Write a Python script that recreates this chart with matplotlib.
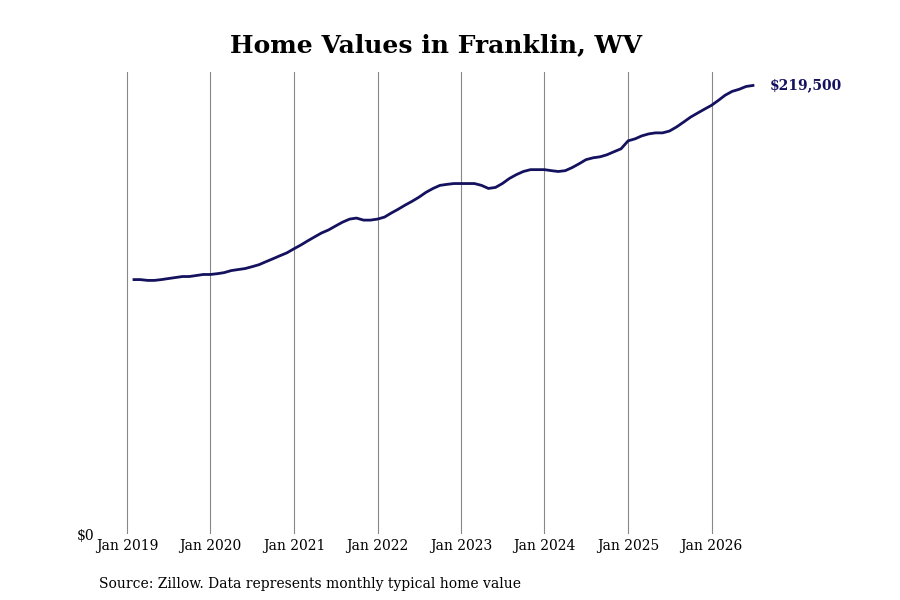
import matplotlib
matplotlib.use("Agg")
import matplotlib.pyplot as plt
import numpy as np
import pandas as pd

# Monthly typical home value (thousands of $), Feb 2019 .. Jul 2026
values_k = [
    124.5, 124.5, 124.1, 124.1, 124.5, 125.0, 125.5, 126.0, 126.0, 126.5, 127.0,
    127.0, 127.4, 127.9, 128.9, 129.4, 129.9, 130.8, 131.8, 133.3, 134.7, 136.2, 137.6,
    139.6, 141.5, 143.4, 145.4, 147.3, 148.8, 150.7, 152.6, 154.1, 154.6, 153.6, 153.6,
    154.1, 155.1, 157.0, 158.9, 160.9, 162.8, 164.8, 167.2, 169.1, 170.6, 171.1, 171.5,
    171.5, 171.5, 171.5, 170.6, 169.1, 169.6, 171.5, 174.0, 175.9, 177.4, 178.3, 178.3,
    178.3, 177.8, 177.4, 177.8, 179.3, 181.2, 183.2, 184.1, 184.6, 185.6, 187.1, 188.5,
    192.4, 193.4, 194.8, 195.8, 196.3, 196.3, 197.2, 199.2, 201.6, 204.0, 206.0, 207.9,
    209.8, 212.3, 214.7, 216.6, 217.6, 219.0, 219.5,
]
dates = pd.date_range("2019-02-01", periods=len(values_k), freq="MS")
values = np.array(values_k) * 1000
tick_years = list(range(2019, 2027))
line_color = "#14115e"

plt.rcParams["font.family"] = ["DejaVu Serif"]
fig, ax = plt.subplots(figsize=(9, 6), dpi=100)
fig.subplots_adjust(left=0.11, right=0.86, top=0.88, bottom=0.11)

ax.plot(dates, values, color=line_color, lw=2)
ax.set_ylim(0, values.max() * 1.03)
ax.set_xlim(pd.Timestamp("2018-09-01"), pd.Timestamp("2026-10-01"))
ax.set_xticks([pd.Timestamp(f"{y}-01-01") for y in tick_years])
ax.set_xticklabels([f"Jan {y}" for y in tick_years], fontsize=10)
ax.set_yticks([0])
ax.set_yticklabels(["$0"], fontsize=10)
ax.tick_params(length=0)
ax.grid(axis="x", color="#888888", lw=0.8)
for s in ax.spines.values():
    s.set_visible(False)

ax.annotate(f"${values[-1]:,.0f}", (dates[-1], values[-1]), xytext=(12, 0),
            textcoords="offset points", va="center", fontsize=10,
            fontweight="bold", color=line_color)
ax.set_title("Home Values in Franklin, WV", fontsize=18, fontweight="bold", pad=14)
fig.text(0.11, 0.02, "Source: Zillow. Data represents monthly typical home value", fontsize=10)

fig.savefig("out.png")
